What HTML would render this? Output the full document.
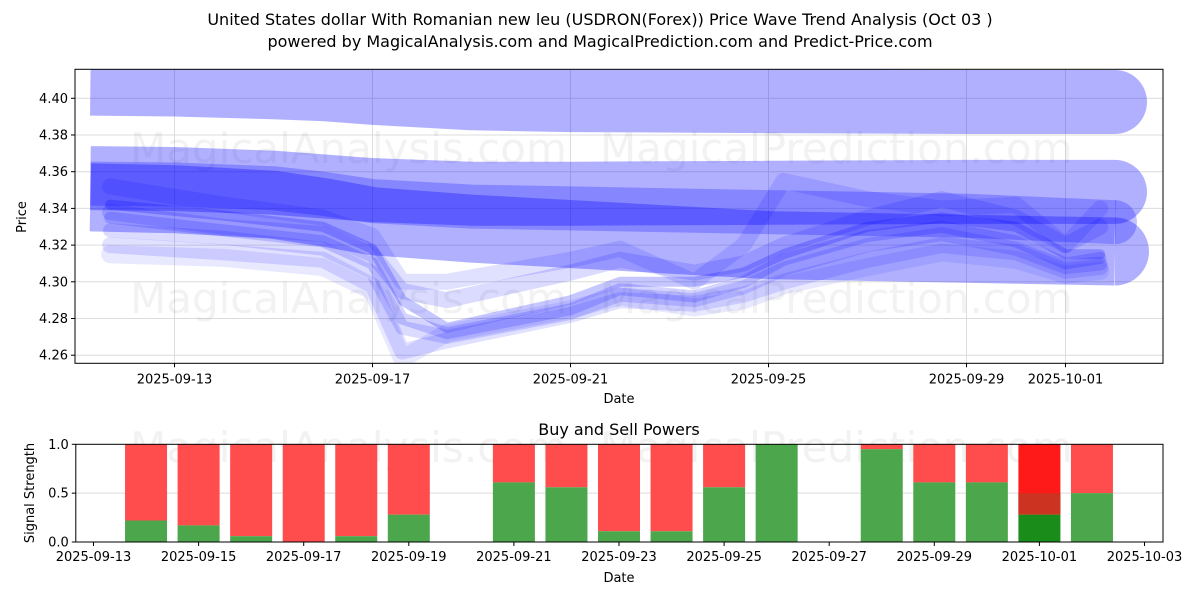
<!DOCTYPE html>
<html><head><meta charset="utf-8"><style>
body{margin:0;background:#fff;}
svg{display:block;font-family:"DejaVu Sans","Liberation Sans",sans-serif;}
</style></head><body>
<svg id="chart" width="1200" height="600" viewBox="0 0 1200 600" xmlns="http://www.w3.org/2000/svg">
<text x="600" y="25" text-anchor="middle" font-size="16">United States dollar With Romanian new leu (USDRON(Forex)) Price Wave Trend Analysis (Oct 03 )</text>
<text x="600" y="47" text-anchor="middle" font-size="16">powered by MagicalAnalysis.com and MagicalPrediction.com and Predict-Price.com</text>
<g id="topPanel"></g>
<g id="botPanel"></g>
</svg>
<script>
// ---- price panel data (x = days from 2025-09-13) ----
const tickDates = ["2025-09-13","2025-09-17","2025-09-21","2025-09-25","2025-09-29","2025-10-01"];
const tickDays = [0,4,8,12,16,18];
const yTicks = [4.26,4.28,4.30,4.32,4.34,4.36,4.38,4.40];
const bandDays = [-1.7,0,2,3,4,6,8,12,16,19];
const bandA = [4.408,4.4075,4.406,4.405,4.403,4.400,4.399,4.3985,4.398,4.398];
const bandB = [4.3565,4.356,4.354,4.352,4.350,4.348,4.348,4.3485,4.349,4.349];
const bandC = [4.3535,4.353,4.351,4.348,4.344,4.341,4.340,4.338,4.336,4.3325];
const bandD = [4.346,4.345,4.342,4.338,4.333,4.329,4.326,4.320,4.318,4.3165];
const waveDays = [-1.3,1,3,4,4.6,5.5,8,9,10.5,11.5,12.3,14,15.5,17,18,18.7];
const wave1 = [4.342,4.336,4.330,4.318,4.290,4.275,4.290,4.300,4.300,4.305,4.315,4.330,4.335,4.330,4.315,4.315];
const wave2 = [4.335,4.328,4.322,4.310,4.280,4.272,4.285,4.296,4.292,4.300,4.312,4.325,4.330,4.322,4.310,4.313];
const wave3 = [4.328,4.324,4.318,4.305,4.275,4.270,4.283,4.293,4.290,4.297,4.307,4.320,4.326,4.318,4.308,4.310];
const wave4 = [4.320,4.316,4.312,4.298,4.262,4.268,4.282,4.290,4.288,4.293,4.300,4.312,4.320,4.316,4.306,4.308];
const wave5 = [4.315,4.313,4.308,4.295,4.258,4.272,4.285,4.292,4.286,4.290,4.298,4.308,4.316,4.312,4.304,4.306];
const wave6 = [4.352,4.342,4.335,4.325,4.300,4.300,4.312,4.318,4.300,4.320,4.355,4.345,4.340,4.342,4.320,4.340];
const wave7 = [4.338,4.330,4.326,4.315,4.295,4.290,4.305,4.312,4.305,4.310,4.320,4.335,4.345,4.335,4.320,4.330];
// ---- signal panel data (x = days from 2025-09-13) ----
const barDays = [1,2,3,4,5,6,8,9,10,11,12,13,15,16,17,18,19];
const buyPower = [0.22,0.17,0.06,0.0,0.06,0.28,0.61,0.56,0.11,0.11,0.56,1.0,0.95,0.61,0.61,0.28,0.5];
const botTickLabels = ["2025-09-13","2025-09-15","2025-09-17","2025-09-19","2025-09-21","2025-09-23","2025-09-25","2025-09-27","2025-09-29","2025-10-01","2025-10-03"];
const botTickDays = [0,2,4,6,8,10,12,14,16,18,20];
const sigTicks = [0,0.5,1.0];

const NS="http://www.w3.org/2000/svg";
function mk(tag,attrs,parent,txt){const e=document.createElementNS(NS,tag);for(const k in attrs)e.setAttribute(k,attrs[k]);if(txt!==undefined)e.textContent=txt;parent.appendChild(e);return e;}
const topG=document.getElementById('topPanel'), botG=document.getElementById('botPanel');
const L=75,R=1163,T=69.3,B=363.3;
const x=d=>174.5+d*49.5;
const y=v=>98.3+(4.40-v)*1835;
const defs=mk('defs',{},topG);
const cp=mk('clipPath',{id:'cp'},defs); mk('rect',{x:L,y:T,width:R-L,height:B-T},cp);
yTicks.forEach(v=>{const g=mk('line',{x1:L,x2:R,y1:y(v),y2:y(v),stroke:'#dcdcdc','stroke-width':1},topG);

});
tickDays.forEach(d=>{const g=mk('line',{x1:x(d),x2:x(d),y1:T,y2:B,stroke:'#dcdcdc','stroke-width':1},topG);

});
[["MagicalAnalysis.com",130,163],["MagicalPrediction.com",600,163],["MagicalAnalysis.com",130,313],["MagicalPrediction.com",600,313]].forEach(w=>{
const t=mk('text',{x:w[1],y:w[2],'font-size':42,fill:'rgba(128,128,128,0.1)'},topG,w[0]);

});
const plot=mk('g',{'clip-path':'url(#cp)'},topG);


function band(days,vals,w,col,name,capEnd){
  const d=days.map((dd,i)=>(i?'L':'M')+x(dd).toFixed(1)+' '+y(vals[i]).toFixed(1)).join(' ');
  const p=mk('path',{d:d,fill:'none',stroke:col,'stroke-width':w,'stroke-linejoin':'round','stroke-linecap':'butt'},plot);
  
  
  if(capEnd){const n=days.length-1;const c=mk('path',{d:`M${x(days[n])} ${y(vals[n])-w/2} A${w/2} ${w/2} 0 0 1 ${x(days[n])} ${y(vals[n])+w/2} Z`,fill:col},plot);
  
  }
}
band(bandDays,bandA,64,'rgba(0,0,255,0.31)','wave-band-top',true);
band(bandDays,bandB,64,'rgba(0,0,255,0.31)','wave-band-middle',true);
band(bandDays,bandD,68,'rgba(0,0,255,0.31)','wave-band-lower',true);
band(bandDays,bandC,44,'rgba(0,0,255,0.24)','wave-band-core',true);
[[wave6,16,0.12],[wave7,16,0.14],[wave5,18,0.09],[wave4,16,0.12],[wave3,14,0.14],[wave2,12,0.17],[wave1,10,0.22]].forEach((w,i)=>{
  const d=waveDays.map((dd,j)=>(j?'L':'M')+x(dd).toFixed(1)+' '+y(w[0][j]).toFixed(1)).join(' ');
  const p=mk('path',{d:d,fill:'none',stroke:'rgba(0,0,255,'+w[2]+')','stroke-width':w[1],'stroke-linejoin':'round','stroke-linecap':'round'},plot);
  
  
});
const fr=mk('rect',{x:L,y:T,width:R-L,height:B-T,fill:'none',stroke:'#000','stroke-width':1},topG);


yTicks.forEach(v=>{mk('line',{x1:L-4,x2:L,y1:y(v),y2:y(v),stroke:'#000'},topG);
const t=mk('text',{x:L-7,y:y(v)+4.5,'text-anchor':'end','font-size':13},topG,v.toFixed(2));

});
tickDays.forEach((d,i)=>{mk('line',{x1:x(d),x2:x(d),y1:B,y2:B+4,stroke:'#000'},topG);
const t=mk('text',{x:x(d),y:B+20,'text-anchor':'middle','font-size':13},topG,tickDates[i]);

});
const yl=mk('text',{x:0,y:0,'text-anchor':'middle','font-size':13,transform:'translate(26,217) rotate(-90)'},topG,'Price');


const xl=mk('text',{x:619,y:403,'text-anchor':'middle','font-size':13},topG,'Date');



const BL=75.8,BR=1163,BT=444.3,BB=542;
const bx=d=>93.5+d*52.55;
const by=v=>BB-(BB-BT)*v;
const st=mk('text',{x:619,y:435,'text-anchor':'middle','font-size':16},botG,'Buy and Sell Powers');


const g5=mk('line',{x1:BL,x2:BR,y1:by(0.5),y2:by(0.5),stroke:'#dcdcdc'},botG);


[["MagicalAnalysis.com",130,462],["MagicalPrediction.com",600,462]].forEach(w=>{
const t=mk('text',{x:w[1],y:w[2],'font-size':42,fill:'rgba(128,128,128,0.1)'},botG,w[0]);

});
barDays.forEach((d,i)=>{
  const bw=42,x0=bx(d)-bw/2,g=buyPower[i];
  const special=(i===barDays.length-2);
  const r=mk('rect',{x:x0,y:by(1),width:bw,height:by(g)-by(1),fill:special?'#ff1a1a':'#ff4c4c'},botG);
  
  
  if(special){const m=mk('rect',{x:x0,y:by(0.5),width:bw,height:Math.max(0,by(g)-by(0.5)),fill:'#cc3320'},botG);
    
    }
  const gr=mk('rect',{x:x0,y:by(g),width:bw,height:by(0)-by(g),fill:special?'#1a8c1a':'#4ca64c'},botG);
  
  
});
const bf=mk('rect',{x:BL,y:BT,width:BR-BL,height:BB-BT,fill:'none',stroke:'#000'},botG);


sigTicks.forEach(v=>{mk('line',{x1:BL-4,x2:BL,y1:by(v),y2:by(v),stroke:'#000'},botG);
const t=mk('text',{x:BL-7,y:by(v)+4.5,'text-anchor':'end','font-size':13},botG,v.toFixed(1));

});
botTickDays.forEach((d,i)=>{mk('line',{x1:bx(d),x2:bx(d),y1:BB,y2:BB+4,stroke:'#000'},botG);
const t=mk('text',{x:bx(d),y:BB+19,'text-anchor':'middle','font-size':13},botG,botTickLabels[i]);

});
const syl=mk('text',{x:0,y:0,'text-anchor':'middle','font-size':13,transform:'translate(34,493) rotate(-90)'},botG,'Signal Strength');


const sxl=mk('text',{x:619,y:582,'text-anchor':'middle','font-size':13},botG,'Date');


</script>
</body></html>
